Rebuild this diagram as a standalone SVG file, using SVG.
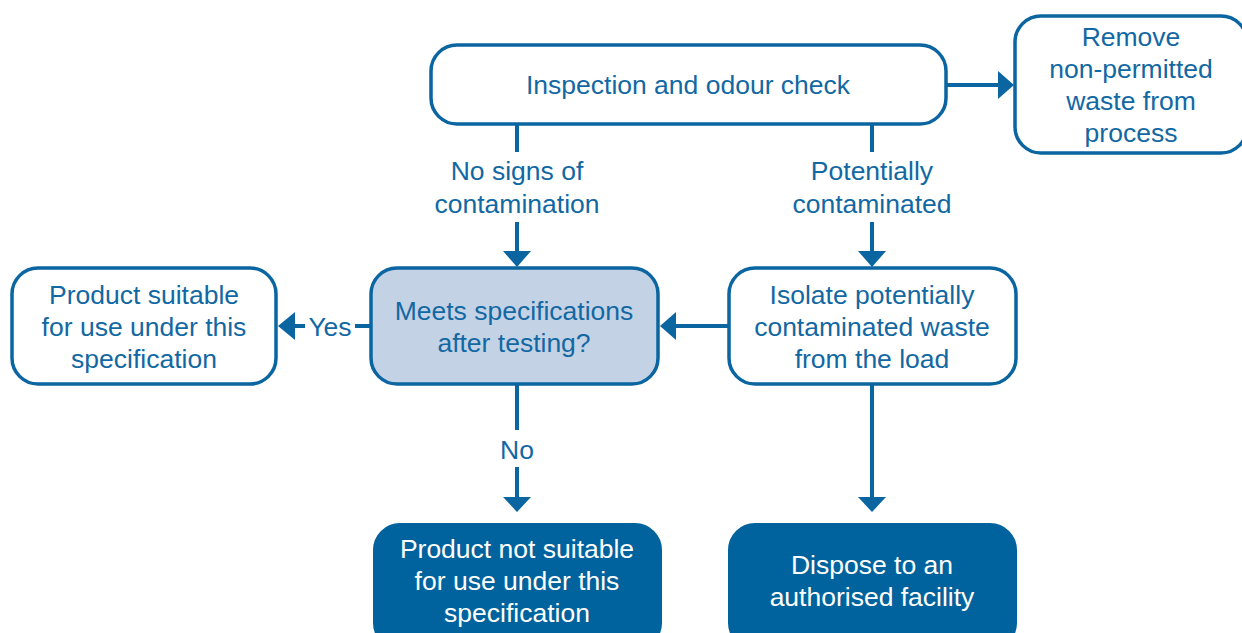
<svg xmlns="http://www.w3.org/2000/svg" width="1242" height="633" viewBox="0 0 1242 633">
<defs>
<style>
.box{fill:#ffffff;stroke:#0a65a0;stroke-width:3.5}
.q{fill:#c4d2e5;stroke:#0a65a0;stroke-width:3.5}
.end{fill:#00639d;stroke:#00639d;stroke-width:2}
.t{font-family:"Liberation Sans",Arial,sans-serif;font-size:26.5px;fill:#1268a3;text-anchor:middle}
.tw{font-family:"Liberation Sans",Arial,sans-serif;font-size:26.5px;fill:#ffffff;text-anchor:middle}
.ln{stroke:#0a65a0;stroke-width:4;fill:none}
.ah{fill:#0a65a0}
</style>
</defs>
<rect width="1242" height="633" fill="#ffffff"/>
<g id="connectors">
<line class="ln" x1="517" y1="124" x2="517" y2="152"/>
<line class="ln" x1="517" y1="222" x2="517" y2="252"/>
<polygon class="ah" points="503,251 531,251 517,267"/>
<line class="ln" x1="872" y1="124" x2="872" y2="152"/>
<line class="ln" x1="872" y1="222" x2="872" y2="252"/>
<polygon class="ah" points="858,251 886,251 872,267"/>
<line class="ln" x1="946" y1="85" x2="1000" y2="85"/>
<polygon class="ah" points="998,71 998,99 1014,85"/>
<line class="ln" x1="729" y1="326" x2="674" y2="326"/>
<polygon class="ah" points="676,312 676,340 660,326"/>
<line class="ln" x1="370" y1="326" x2="355" y2="326"/>
<line class="ln" x1="305" y1="326" x2="293" y2="326"/>
<polygon class="ah" points="295,312 295,340 278,326"/>
<line class="ln" x1="517" y1="385" x2="517" y2="430"/>
<line class="ln" x1="517" y1="467" x2="517" y2="498"/>
<polygon class="ah" points="503,497 531,497 517,512"/>
<line class="ln" x1="872" y1="385" x2="872" y2="498"/>
<polygon class="ah" points="858,497 886,497 872,512"/>
<text class="t" x="517" y="180">No signs of</text>
<text class="t" x="517" y="213">contamination</text>
<text class="t" x="872" y="180">Potentially</text>
<text class="t" x="872" y="213">contaminated</text>
<text class="t" x="330" y="336">Yes</text>
<text class="t" x="517" y="459">No</text>
</g>
<g id="inspection">
<rect class="box" x="431" y="45" width="515" height="79" rx="26"/>
<text class="t" x="688" y="94">Inspection and odour check</text>
</g>
<g id="remove">
<rect class="box" x="1015" y="16" width="232" height="137" rx="26"/>
<text class="t" x="1131" y="46">Remove</text>
<text class="t" x="1131" y="78">non-permitted</text>
<text class="t" x="1131" y="110">waste from</text>
<text class="t" x="1131" y="142">process</text>
</g>
<g id="meets">
<rect class="q" x="371" y="268" width="287" height="116" rx="26"/>
<text class="t" x="514" y="320">Meets specifications</text>
<text class="t" x="514" y="352">after testing?</text>
</g>
<g id="suitable">
<rect class="box" x="12" y="268" width="264" height="116" rx="26"/>
<text class="t" x="144" y="304">Product suitable</text>
<text class="t" x="144" y="336">for use under this</text>
<text class="t" x="144" y="368">specification</text>
</g>
<g id="isolate">
<rect class="box" x="729" y="268" width="287" height="116" rx="26"/>
<text class="t" x="872" y="304">Isolate potentially</text>
<text class="t" x="872" y="336">contaminated waste</text>
<text class="t" x="872" y="368">from the load</text>
</g>
<g id="notsuitable">
<rect class="end" x="374" y="524" width="287" height="125" rx="26"/>
<text class="tw" x="517" y="558">Product not suitable</text>
<text class="tw" x="517" y="590">for use under this</text>
<text class="tw" x="517" y="622">specification</text>
</g>
<g id="dispose">
<rect class="end" x="729" y="524" width="287" height="125" rx="26"/>
<text class="tw" x="872" y="574">Dispose to an</text>
<text class="tw" x="872" y="606">authorised facility</text>
</g>
</svg>
